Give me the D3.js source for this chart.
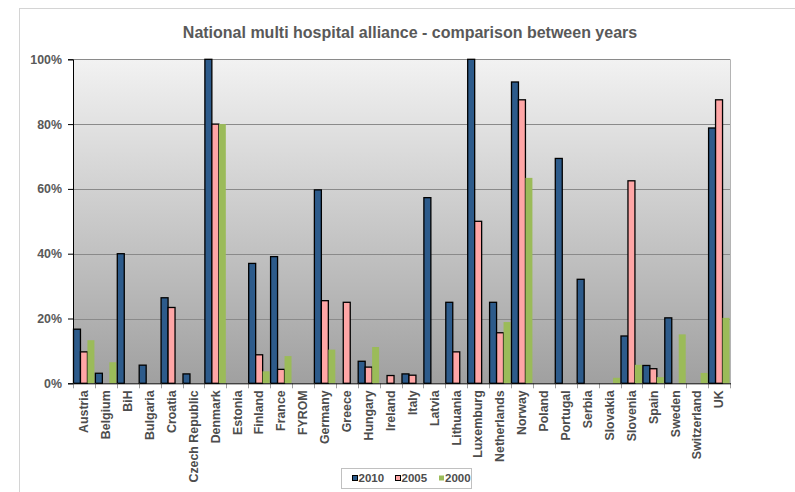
<!DOCTYPE html>
<html>
<head>
<meta charset="utf-8">
<script src="https://cdn.jsdelivr.net/npm/d3@7"></script>
<style>
  html, body { margin: 0; padding: 0; background: #ffffff; }
  svg { display: block; font-family: "Liberation Sans", Arial, sans-serif; }
</style>
</head>
<body>
<svg id="chart" width="795" height="492"></svg>
<script>
const categories = ["Austria","Belgium","BiH","Bulgaria","Croatia","Czech Republic","Denmark","Estonia","Finland","France","FYROM","Germany","Greece","Hungary","Ireland","Italy","Latvia","Lithuania","Luxemburg","Netherlands","Norway","Poland","Portugal","Serbia","Slovakia","Slovenia","Spain","Sweden","Switzerland","UK"];
const seriesNames = ["2010","2005","2000"];
const values2010 = [16.7, 3.1, 40, 5.6, 26.4, 2.9, 100, 0, 37, 39.1, 0, 59.7, 0, 6.8, 0, 2.9, 57.3, 25, 100, 25, 93, 0, 69.4, 32.1, 0, 14.6, 5.5, 20.2, 0, 78.8];
const values2005 = [9.7, 0, 0, 0, 23.4, 0, 80, 0, 8.8, 4.3, 0, 25.5, 25, 5, 2.4, 2.5, 0, 9.7, 50, 15.6, 87.5, 0, 0, 0, 0, 62.5, 4.5, 0, 0, 87.5];
const values2000 = [13.3, 6.5, 0, 0, 0, 0, 80, 0, 3.7, 8.4, 0, 10.4, 0, 11.2, 0, 0, 0, 0, 0, 18.9, 63.4, 0, 0, 0, 1.7, 5.7, 1.9, 15.1, 3.2, 20.2];
const yTicks = [0, 20, 40, 60, 80, 100];
const title = "National multi hospital alliance - comparison between years";

const colors = {"2010": "#2d5b8b", "2005": "#ffa6a6", "2000": "#9bbb59"};
const strokes = {"2010": "#000", "2005": "#000", "2000": "none"};
const seriesValues = {"2010": values2010, "2005": values2005, "2000": values2000};

const svg = d3.select("#chart");
const plot = {left: 73, right: 730, top: 59.3, bottom: 383.3};

// outer chart border
svg.append("rect").attr("x", 19.5).attr("y", 8.5).attr("width", 800).attr("height", 500)
  .attr("fill", "#fff").attr("stroke", "#d4d4d4");

// title
svg.append("text").attr("x", 410).attr("y", 37.5).attr("text-anchor", "middle")
  .attr("font-size", 16).attr("font-weight", "bold").attr("fill", "#595959").text(title);

// gradient
const defs = svg.append("defs");
const grad = defs.append("linearGradient").attr("id", "bg").attr("x1", 0).attr("y1", 0).attr("x2", 0).attr("y2", 1);
grad.append("stop").attr("offset", "0%").attr("stop-color", "#f2f2f2");
grad.append("stop").attr("offset", "100%").attr("stop-color", "#a0a0a0");

const x = d3.scaleBand().domain(categories).range([plot.left, plot.right]).paddingInner(0).paddingOuter(0);
const x1 = d3.scaleBand().domain(seriesNames).range([0, x.bandwidth()]).paddingInner(0).paddingOuter(0.07);
const y = d3.scaleLinear().domain([0, 100]).range([plot.bottom, plot.top]);

svg.append("rect").attr("x", plot.left).attr("y", plot.top)
  .attr("width", plot.right - plot.left).attr("height", plot.bottom - plot.top)
  .attr("fill", "url(#bg)");
// plot border right
svg.append("line").attr("x1", plot.right + 0.5).attr("x2", plot.right + 0.5)
  .attr("y1", plot.top).attr("y2", plot.bottom).attr("stroke", "#b4b4b4");

// gridlines
svg.append("g").selectAll("line").data(yTicks.filter(d => d > 0)).join("line")
  .attr("x1", plot.left).attr("x2", plot.right)
  .attr("y1", d => Math.round(y(d)) + 0.5).attr("y2", d => Math.round(y(d)) + 0.5)
  .attr("stroke", "#8a8a8a").attr("stroke-width", 1);

// bars
const groups = svg.append("g").selectAll("g").data(categories).join("g")
  .attr("transform", d => `translate(${x(d)},0)`);
seriesNames.forEach(s => {
  groups.filter((d, i) => seriesValues[s][i] > 0)
    .append("rect")
    .attr("x", d => x1(s))
    .attr("width", x1.bandwidth())
    .attr("y", d => y(seriesValues[s][categories.indexOf(d)]))
    .attr("height", d => plot.bottom - y(seriesValues[s][categories.indexOf(d)]))
    .attr("fill", colors[s])
    .attr("stroke", strokes[s])
    .attr("stroke-width", 1.3);
});

// y axis
const yAxis = d3.axisLeft(y).tickValues(yTicks).tickFormat(d => d + "%").tickSize(5).tickPadding(6);
const yg = svg.append("g").attr("transform", `translate(${plot.left},0)`).call(yAxis);
yg.select(".domain").attr("stroke", "#000");
yg.selectAll(".tick line").attr("stroke", "#000");
yg.selectAll("text").attr("font-size", 12.4).attr("font-weight", "bold").attr("fill", "#595959")
  .attr("font-family", "Liberation Sans, Arial, sans-serif");

// x axis
const xTickPos = d3.range(categories.length + 1).map(i => plot.left + i * x.bandwidth());
svg.append("g").selectAll("line").data(xTickPos).join("line")
  .attr("x1", d => Math.round(d) + 0.5).attr("x2", d => Math.round(d) + 0.5)
  .attr("y1", plot.bottom).attr("y2", plot.bottom + 5)
  .attr("stroke", "#a0a0a0");
svg.append("line").attr("x1", plot.left).attr("x2", plot.right + 1)
  .attr("y1", plot.bottom + 0.5).attr("y2", plot.bottom + 0.5).attr("stroke", "#000");

svg.append("g").selectAll("text").data(categories).join("text")
  .attr("transform", d => `translate(${x(d) + x.bandwidth() / 2 + 4.3},${plot.bottom + 7}) rotate(-90)`)
  .attr("text-anchor", "end")
  .attr("font-size", 12.4).attr("font-weight", "bold").attr("fill", "#4d4d4d")
  .text(d => d);

// legend
svg.append("rect").attr("x", 341.5).attr("y", 468.5).attr("width", 130).attr("height", 20)
  .attr("fill", "#fff").attr("stroke", "#c0c0c0");
const legendX = [352.5, 395.5, 439];
const lg = svg.append("g").selectAll("g").data(seriesNames).join("g")
  .attr("transform", (d, i) => `translate(${legendX[i]},0)`);
lg.append("rect").attr("x", 0).attr("y", 475.5).attr("width", 5).attr("height", 5)
  .attr("fill", d => colors[d]).attr("stroke", d => strokes[d]).attr("stroke-width", 1);
lg.append("text").attr("x", 6).attr("y", 482).attr("font-size", 11.5).attr("font-weight", "bold")
  .attr("fill", "#4d4d4d").text(d => d);
</script>
</body>
</html>
